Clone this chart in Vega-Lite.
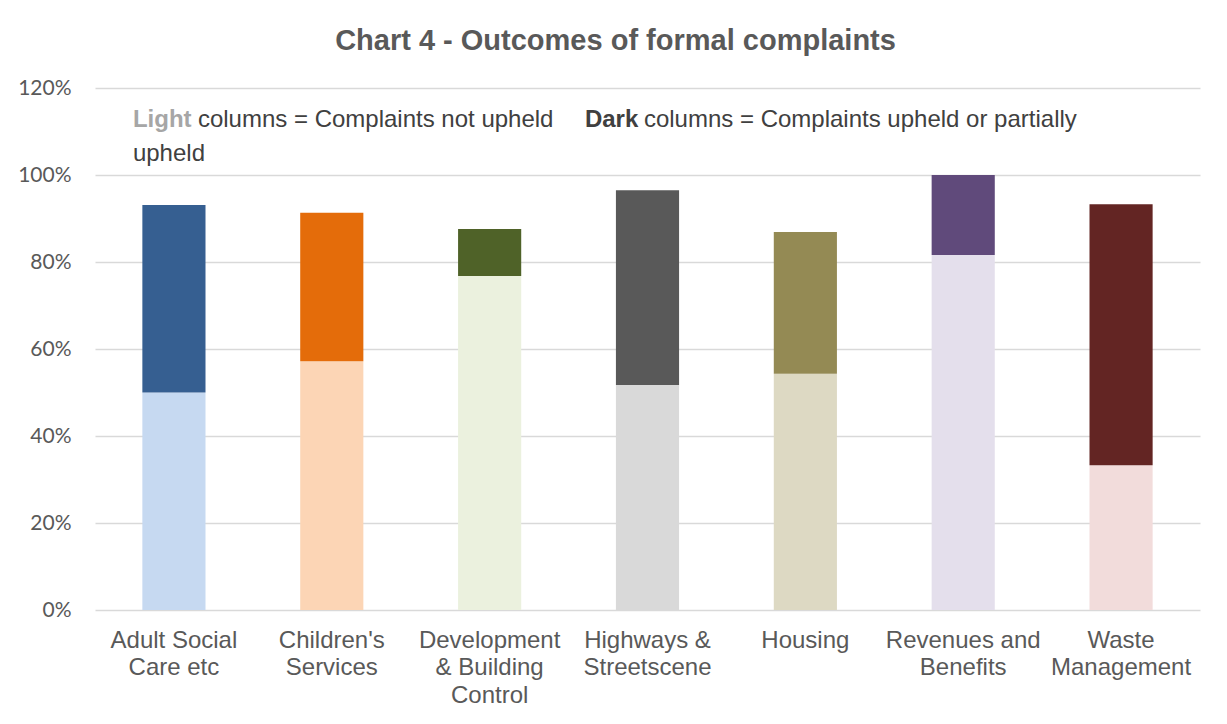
{
  "$schema": "https://vega.github.io/schema/vega-lite/v6.json",
  "width": 1105,
  "height": 522,
  "autosize": {"type": "none"},
  "padding": {"left": 95, "top": 88, "right": 27, "bottom": 114},
  "background": "white",
  "title": {
    "text": "Chart 4 - Outcomes of formal complaints",
    "font": "Liberation Sans",
    "fontSize": 29,
    "fontWeight": "bold",
    "color": "#595959",
    "anchor": "middle",
    "baseline": "alphabetic",
    "dx": -32,
    "offset": -2
  },
  "config": {"view": {"stroke": null}},
  "layer": [
    {
      "data": {
        "values": [
          {"category": "Adult Social Care etc", "outcome": "a Not upheld", "segment": "ASC not upheld", "share": 0.500},
          {"category": "Adult Social Care etc", "outcome": "b Upheld", "segment": "ASC upheld", "share": 0.431},
          {"category": "Children's Services", "outcome": "a Not upheld", "segment": "CS not upheld", "share": 0.572},
          {"category": "Children's Services", "outcome": "b Upheld", "segment": "CS upheld", "share": 0.341},
          {"category": "Development & Building Control", "outcome": "a Not upheld", "segment": "DBC not upheld", "share": 0.768},
          {"category": "Development & Building Control", "outcome": "b Upheld", "segment": "DBC upheld", "share": 0.108},
          {"category": "Highways & Streetscene", "outcome": "a Not upheld", "segment": "HS not upheld", "share": 0.517},
          {"category": "Highways & Streetscene", "outcome": "b Upheld", "segment": "HS upheld", "share": 0.448},
          {"category": "Housing", "outcome": "a Not upheld", "segment": "H not upheld", "share": 0.543},
          {"category": "Housing", "outcome": "b Upheld", "segment": "H upheld", "share": 0.326},
          {"category": "Revenues and Benefits", "outcome": "a Not upheld", "segment": "RB not upheld", "share": 0.816},
          {"category": "Revenues and Benefits", "outcome": "b Upheld", "segment": "RB upheld", "share": 0.184},
          {"category": "Waste Management", "outcome": "a Not upheld", "segment": "WM not upheld", "share": 0.333},
          {"category": "Waste Management", "outcome": "b Upheld", "segment": "WM upheld", "share": 0.600}
        ]
      },
      "mark": {"type": "bar"},
      "encoding": {
        "x": {
          "field": "category",
          "type": "nominal",
          "sort": ["Adult Social Care etc", "Children's Services", "Development & Building Control", "Highways & Streetscene", "Housing", "Revenues and Benefits", "Waste Management"],
          "scale": {"paddingInner": 0.6, "paddingOuter": 0.3},
          "axis": {
            "title": null,
            "domain": false,
            "ticks": false,
            "labelAngle": 0,
            "labelPadding": 18,
            "labelFont": "Liberation Sans",
            "labelFontSize": 24,
            "labelColor": "#595959",
            "labelLineHeight": 27.5,
            "labelLimit": 0,
            "labelExpr": "{'Adult Social Care etc': ['Adult Social', 'Care etc'], 'Children\\'s Services': ['Children\\'s', 'Services'], 'Development & Building Control': ['Development', '& Building', 'Control'], 'Highways & Streetscene': ['Highways &', 'Streetscene'], 'Housing': 'Housing', 'Revenues and Benefits': ['Revenues and', 'Benefits'], 'Waste Management': ['Waste', 'Management']}[datum.value]"
          }
        },
        "y": {
          "field": "share",
          "type": "quantitative",
          "stack": "zero",
          "scale": {"domain": [0, 1.2]},
          "axis": {
            "title": null,
            "format": ".0%",
            "values": [0, 0.2, 0.4, 0.6, 0.8, 1.0, 1.2],
            "domain": false,
            "ticks": false,
            "labelPadding": 24,
            "labelFont": "Lato",
            "labelFontSize": 21,
            "labelColor": "#595959",
            "gridColor": "#D9D9D9",
            "gridWidth": 1.5
          }
        },
        "color": {
          "field": "segment",
          "type": "nominal",
          "scale": {
            "domain": ["ASC not upheld", "ASC upheld", "CS not upheld", "CS upheld", "DBC not upheld", "DBC upheld", "HS not upheld", "HS upheld", "H not upheld", "H upheld", "RB not upheld", "RB upheld", "WM not upheld", "WM upheld"],
            "range": ["#C6D9F1", "#365F91", "#FCD5B5", "#E46C0A", "#EBF1DE", "#4F6228", "#D9D9D9", "#595959", "#DDD9C3", "#948A54", "#E4DFEC", "#604A7B", "#F2DCDB", "#632523"]
          },
          "legend": null
        },
        "order": {"field": "outcome", "sort": "ascending"}
      }
    },
    {
      "data": {"values": [{"category": "Adult Social Care etc", "share": 1.1097, "label": "Light"}]},
      "mark": {"type": "text", "align": "left", "baseline": "alphabetic", "dx": -41, "font": "Liberation Sans", "fontSize": 24, "fontWeight": "bold", "color": "#A6A6A6"},
      "encoding": {"x": {"field": "category", "type": "nominal"}, "y": {"field": "share", "type": "quantitative"}, "text": {"field": "label"}}
    },
    {
      "data": {"values": [{"category": "Adult Social Care etc", "share": 1.1097, "label": "columns = Complaints not upheld"}]},
      "mark": {"type": "text", "align": "left", "baseline": "alphabetic", "dx": 24, "font": "Liberation Sans", "fontSize": 24, "color": "#404040"},
      "encoding": {"x": {"field": "category", "type": "nominal"}, "y": {"field": "share", "type": "quantitative"}, "text": {"field": "label"}}
    },
    {
      "data": {"values": [{"category": "Adult Social Care etc", "share": 1.1097, "label": "Dark"}]},
      "mark": {"type": "text", "align": "left", "baseline": "alphabetic", "dx": 411, "font": "Liberation Sans", "fontSize": 24, "fontWeight": "bold", "color": "#404040"},
      "encoding": {"x": {"field": "category", "type": "nominal"}, "y": {"field": "share", "type": "quantitative"}, "text": {"field": "label"}}
    },
    {
      "data": {"values": [{"category": "Adult Social Care etc", "share": 1.1097, "label": "columns = Complaints upheld or partially"}]},
      "mark": {"type": "text", "align": "left", "baseline": "alphabetic", "dx": 470, "font": "Liberation Sans", "fontSize": 24, "color": "#404040"},
      "encoding": {"x": {"field": "category", "type": "nominal"}, "y": {"field": "share", "type": "quantitative"}, "text": {"field": "label"}}
    },
    {
      "data": {"values": [{"category": "Adult Social Care etc", "share": 1.0333, "label": "upheld"}]},
      "mark": {"type": "text", "align": "left", "baseline": "alphabetic", "dx": -41, "font": "Liberation Sans", "fontSize": 24, "color": "#404040"},
      "encoding": {"x": {"field": "category", "type": "nominal"}, "y": {"field": "share", "type": "quantitative"}, "text": {"field": "label"}}
    }
  ]
}
